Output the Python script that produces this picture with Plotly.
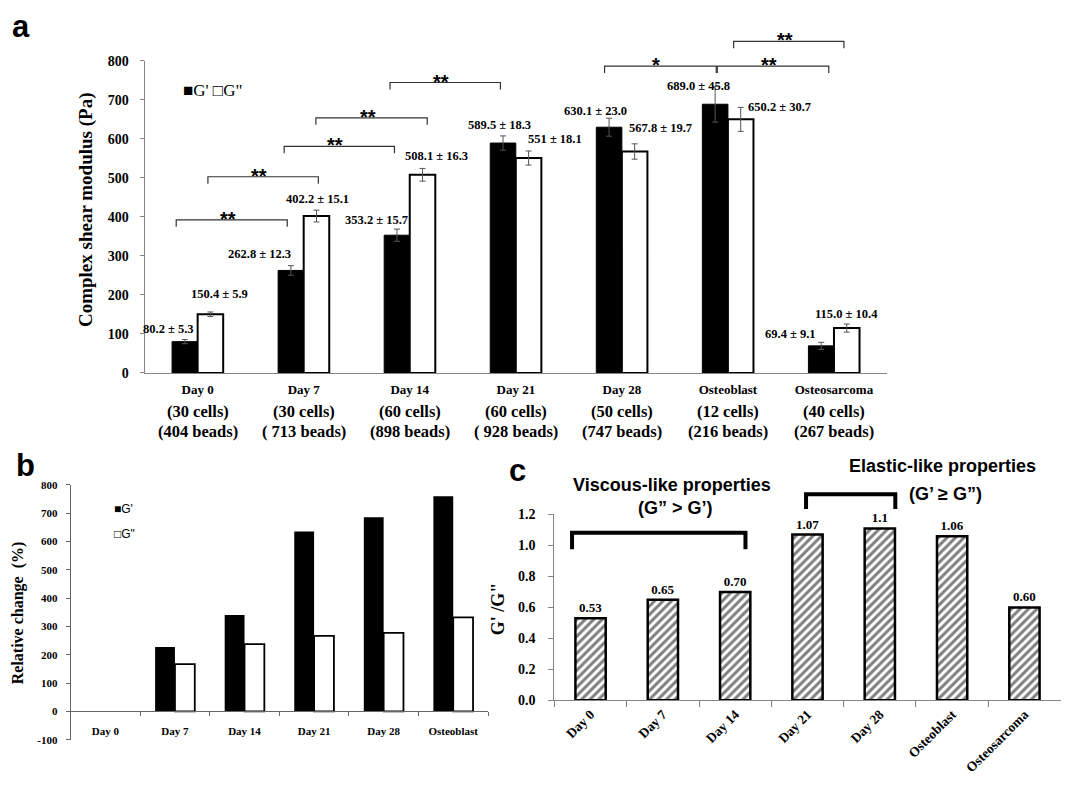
import plotly.graph_objects as go

W, H = 1068, 790

# ---------------- data: panel a ----------------
categories_a = ["Day 0", "Day 7", "Day 14", "Day 21", "Day 28", "Osteoblast", "Osteosarcoma"]
cells_a = ["(30 cells)", "(30 cells)", "(60 cells)", "(60 cells)", "(50 cells)", "(12 cells)", "(40 cells)"]
beads_a = ["(404 beads)", "( 713 beads)", "(898 beads)", "( 928 beads)", "(747 beads)", "(216 beads)", "(267 beads)"]
g_storage = [80.2, 262.8, 353.2, 589.5, 630.1, 689.0, 69.4]
g_storage_err = [5.3, 12.3, 15.7, 18.3, 23.0, 45.8, 9.1]
g_loss = [150.4, 402.2, 508.1, 551, 567.8, 650.2, 115.0]
g_loss_err = [5.9, 15.1, 16.3, 18.1, 19.7, 30.7, 10.4]
sig_labels = ["**", "**", "**", "**", "**", "*", "**", "**"]
ticks_a = [0, 100, 200, 300, 400, 500, 600, 700, 800]

# ---------------- data: panel b ----------------
categories_b = ["Day 0", "Day 7", "Day 14", "Day 21", "Day 28", "Osteoblast"]
rel_storage = [0, 227.7, 340.4, 635.0, 685.6, 759.1]
rel_loss = [0, 167.4, 237.8, 266.4, 277.5, 332.3]
ticks_b = [-100, 0, 100, 200, 300, 400, 500, 600, 700, 800]

# ---------------- data: panel c ----------------
categories_c = ["Day 0", "Day 7", "Day 14", "Day 21", "Day 28", "Osteoblast", "Osteosarcoma"]
ratio = [0.53, 0.65, 0.70, 1.07, 1.11, 1.06, 0.60]
ratio_labels = ["0.53", "0.65", "0.70", "1.07", "1.1", "1.06", "0.60"]
ticks_c = [0.0, 0.2, 0.4, 0.6, 0.8, 1.0, 1.2]

# ---------------- layout geometry (pixels) ----------------
A_X, A_Y = (144.6, 887.0), (373.0, 55.0)
B_X, B_Y = (70.6, 488.0), (747.0, 487.0)
C_X, C_Y = (554.4, 1060.6), (706.7, 517.3)
A_RX, A_RY = (-0.5, 6.5), (0, 800)
B_RX, B_RY = (-0.5, 5.5), (-100, 800)
C_RX, C_RY = (-0.5, 6.5), (0, 1.2)

SERIF = "Liberation Serif, Times New Roman, serif"
SANS = "Liberation Sans, Arial, sans-serif"


def px_x(px):
    return px / W


def px_y(py):
    return 1 - py / H


def dom(pxs, vertical=False):
    if vertical:
        return [px_y(pxs[0]), px_y(pxs[1])]
    return [px_x(pxs[0]), px_x(pxs[1])]


def data_to_paper(ix, val, gx, gy, rx, ry):
    px = gx[0] + (ix - rx[0]) / (rx[1] - rx[0]) * (gx[1] - gx[0])
    py = gy[0] + (val - ry[0]) / (ry[1] - ry[0]) * (gy[1] - gy[0])
    return px_x(px), px_y(py)


def bracket_path(x0, x1, ytop, ybot, gx, gy, rx, ry):
    a = data_to_paper(x0, ybot, gx, gy, rx, ry)
    b = data_to_paper(x0, ytop, gx, gy, rx, ry)
    c = data_to_paper(x1, ytop, gx, gy, rx, ry)
    d = data_to_paper(x1, ybot, gx, gy, rx, ry)
    return f"M {a[0]},{a[1]} L {b[0]},{b[1]} L {c[0]},{c[1]} L {d[0]},{d[1]}"


def label(x, y, text, font, xref="paper", yref="paper", **kw):
    d = dict(x=x, y=y, xref=xref, yref=yref, text=text, showarrow=False,
             xanchor="center", yanchor="middle", font=font)
    d.update(kw)
    return d


fig = go.Figure()

# ---------- panel a bars ----------
wa = 0.241
fig.add_trace(go.Bar(
    x=categories_a, y=g_storage, xaxis="x", yaxis="y",
    width=wa, offset=-wa, marker=dict(color="black", line=dict(color="black", width=1)),
    error_y=dict(type="data", array=g_storage_err, color="#555", thickness=1, width=3),
    showlegend=False, hoverinfo="skip"))
fig.add_trace(go.Bar(
    x=categories_a, y=g_loss, xaxis="x", yaxis="y",
    width=wa, offset=0, marker=dict(color="white", line=dict(color="black", width=2)),
    error_y=dict(type="data", array=g_loss_err, color="#555", thickness=1, width=3),
    showlegend=False, hoverinfo="skip"))

# ---------- panel b bars ----------
wb = 0.285
lw_b = [0 if v == 0 else 1.8 for v in rel_loss]
fig.add_trace(go.Bar(
    x=categories_b, y=rel_storage, xaxis="x2", yaxis="y2",
    width=wb, offset=-wb, marker=dict(color="black", line=dict(color="black", width=0)),
    showlegend=False, hoverinfo="skip"))
fig.add_trace(go.Bar(
    x=categories_b, y=rel_loss, xaxis="x2", yaxis="y2",
    width=wb, offset=0, marker=dict(color="white", line=dict(color="black", width=lw_b)),
    showlegend=False, hoverinfo="skip"))

# ---------- panel c bars ----------
wc = 0.419
fig.add_trace(go.Bar(
    x=categories_c, y=ratio, xaxis="x3", yaxis="y3",
    width=wc, offset=-wc / 2,
    marker=dict(color="white", line=dict(color="black", width=2.5),
                pattern=dict(shape="/", fgcolor="black", bgcolor="white", size=6, solidity=0.5)),
    text=[f"<b>{t}</b>" for t in ratio_labels], textposition="outside",
    textfont=dict(family=SERIF, size=13, color="black"),
    cliponaxis=False, constraintext="none",
    showlegend=False, hoverinfo="skip"))

axis_gray = "#858585"

fig.update_layout(
    width=W, height=H, margin=dict(l=0, r=0, t=0, b=0),
    paper_bgcolor="white", plot_bgcolor="white", barmode="overlay",
    xaxis=dict(domain=dom(A_X), anchor="y", type="category", range=list(A_RX),
               showline=True, linecolor=axis_gray, linewidth=1, ticks="", showgrid=False,
               zeroline=False, tickfont=dict(family=SERIF, size=13, color="black", weight="bold"),
               ticklabelstandoff=4),
    yaxis=dict(domain=dom(A_Y, True), anchor="x", range=list(A_RY), tickvals=ticks_a,
               showline=True, linecolor=axis_gray, linewidth=1, ticks="outside", ticklen=4,
               tickcolor=axis_gray, showgrid=False, zeroline=False,
               tickfont=dict(family=SERIF, size=14, color="black", weight="bold"),
               ticklabelstandoff=8),
    xaxis2=dict(domain=dom(B_X), anchor="free", position=px_y(718.0), type="category",
                range=list(B_RX), showline=True, linecolor="#666", linewidth=1,
                ticks="outside", tickson="boundaries", ticklen=4, tickcolor="#666",
                showgrid=False, zeroline=False, ticklabelstandoff=9,
                tickfont=dict(family=SERIF, size=11, color="black", weight="bold")),
    yaxis2=dict(domain=dom(B_Y, True), anchor="x2", range=list(B_RY), tickvals=ticks_b,
                ticktext=[str(t) for t in ticks_b],
                showline=True, linecolor="#666", linewidth=1, ticks="outside", ticklen=4,
                tickcolor="#666", showgrid=False, zeroline=False,
                tickfont=dict(family=SERIF, size=11, color="black", weight="bold"),
                ticklabelstandoff=6),
    xaxis3=dict(domain=dom(C_X), anchor="y3", type="category", range=list(C_RX),
                showline=True, linecolor=axis_gray, linewidth=1, ticks="outside",
                tickson="boundaries", ticklen=6, tickcolor=axis_gray, tickangle=-45,
                showgrid=False, zeroline=False,
                tickfont=dict(family=SERIF, size=13.5, color="black", weight="bold")),
    yaxis3=dict(domain=dom(C_Y, True), anchor="x3", range=list(C_RY), tickvals=ticks_c,
                tickformat=".1f", showline=True, linecolor=axis_gray, linewidth=1,
                ticks="outside", ticklen=5, tickcolor=axis_gray, showgrid=False, zeroline=False,
                tickfont=dict(family=SERIF, size=14, color="black", weight="bold"),
                ticklabelstandoff=10),
)

ann = []
shapes = []

# ---------- panel a value labels ----------
g_storage_dx = [-28.7, -44.6, -33, -16.4, -26.3, -29.2, -43.1]
g_storage_dy = [11, 11.6, 9.4, 11.4, 7.4, 0, 8.8]
g_loss_dx = [22.3, 13.4, 26.5, 39.6, 38.4, 51.8, 12.5]
g_loss_dy = [18, 11, 12.5, 11.8, 15.5, 0, 10.2]
val_font = dict(family=SERIF, size=12.5, color="black")
sub_font = dict(family=SERIF, size=16.5, color="black")
for i in range(len(categories_a)):
    for vals, errs, dxs, dys in ((g_storage, g_storage_err, g_storage_dx, g_storage_dy),
                                 (g_loss, g_loss_err, g_loss_dx, g_loss_dy)):
        ann.append(label(i, vals[i] + errs[i], f"<b>{vals[i]} ± {errs[i]}</b>", val_font,
                         xref="x", yref="y", xshift=dxs[i], yshift=dys[i]))
    ann.append(label(i, px_y(412), f"<b>{cells_a[i]}</b>", sub_font, xref="x"))
    ann.append(label(i, px_y(433), f"<b>{beads_a[i]}</b>", sub_font, xref="x"))

# ---------- panel a significance brackets ----------
sig_x0 = [-0.202, 0.097, 0.816, 1.115, 1.814, 3.837, 4.90, 5.054]
sig_x1 = [0.845, 1.138, 1.856, 2.165, 2.855, 4.89, 5.951, 6.094]
sig_top = [392.5, 503, 581, 654, 744.7, 787, 787, 850]
sig_leg = 17.6
star_font = dict(family=SANS, size=20, color="black")
for x0, x1, yt, lab in zip(sig_x0, sig_x1, sig_top, sig_labels):
    shapes.append(dict(type="path", xref="paper", yref="paper",
                       path=bracket_path(x0, x1, yt, yt - sig_leg, A_X, A_Y, A_RX, A_RY),
                       line=dict(color="#333", width=1.2)))
    sx, sy = data_to_paper((x0 + x1) / 2, yt, A_X, A_Y, A_RX, A_RY)
    ann.append(label(sx, sy, f"<b>{lab}</b>", star_font, xshift=-4, yshift=1))

# legend panel a
ann.append(label(px_x(212), px_y(85), "■G' □G\"", dict(family=SERIF, size=17, color="black")))

# axis title panel a
ann.append(label(px_x(86), px_y(207), "<b>Complex shear modulus (Pa)</b>",
                 dict(family=SERIF, size=19, color="black"), textangle=-90))

# ---------- panel b extras ----------
leg_b_font = dict(family=SANS, size=12, color="black")
ann.append(label(px_x(123), px_y(512), "■G'", leg_b_font))
ann.append(label(px_x(124), px_y(537), "□G\"", leg_b_font))
ann.append(label(px_x(18), px_y(618), "<b>Relative change\u00a0\u00a0(%)</b>",
                 dict(family=SERIF, size=16, color="black"), textangle=-90))

# ---------- panel c extras ----------
ann.append(label(px_x(498), px_y(613), "<b>G' /G\"</b>",
                 dict(family=SERIF, size=18, color="black"), textangle=-90))
c_brackets = [(-0.256, 2.142, 1.0815, 0.9757), (2.98, 4.214, 1.3305, 1.2355)]
for x0, x1, yt, yb in c_brackets:
    shapes.append(dict(type="path", xref="paper", yref="paper",
                       path=bracket_path(x0, x1, yt, yb, C_X, C_Y, C_RX, C_RY),
                       line=dict(color="black", width=4)))
c_texts = [("Viscous-like properties", 672, 487), ("(G” > G’)", 675, 511),
           ("Elastic-like properties", 942, 468), ("(G’ ≥ G”)", 945, 496)]
c_font = dict(family=SANS, size=18, color="black")
for t, x, y in c_texts:
    ann.append(label(px_x(x), px_y(y), f"<b>{t}</b>", c_font))

# ---------- panel letters ----------
letter_font = dict(family=SANS, size=31, color="black")
for t, x, y in (("a", 21, 20), ("b", 25, 467), ("c", 517, 472)):
    ann.append(label(px_x(x), px_y(y), f"<b>{t}</b>", letter_font))

fig.update_layout(annotations=ann, shapes=shapes)
fig.write_html("out.html", config={"displayModeBar": False},
               post_script="document.body.style.margin='0';document.body.style.overflow='hidden';")
